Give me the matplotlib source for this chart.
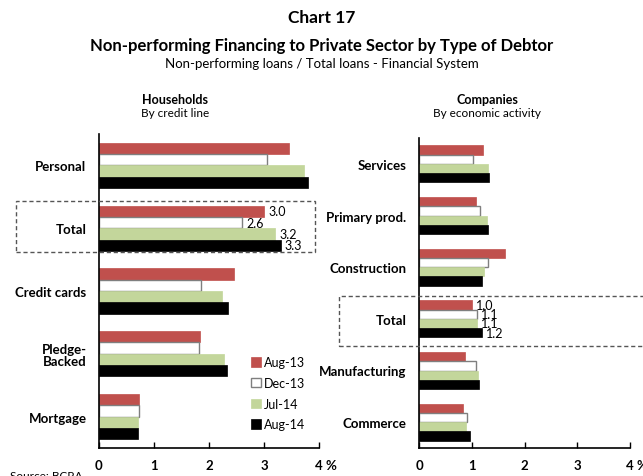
import matplotlib
matplotlib.use("Agg")
import matplotlib.pyplot as plt
import numpy as np
from matplotlib.patches import Rectangle
from matplotlib.transforms import offset_copy

plt.rcParams['font.family'] = ['Lato', 'DejaVu Sans']

series = ["Aug-13", "Dec-13", "Jul-14", "Aug-14"]
colors = ["#C0504D", "white", "#C3D69B", "black"]
edges = ["#C0504D", "#7F7F7F", "#C3D69B", "black"]

hh_cats = ["Personal", "Total", "Credit cards", "Pledge-\nBacked", "Mortgage"]
hh_vals = {
    "Aug-13": [3.45, 3.0, 2.45, 1.84, 0.73],
    "Dec-13": [3.05, 2.6, 1.85, 1.82, 0.72],
    "Jul-14": [3.73, 3.2, 2.24, 2.27, 0.70],
    "Aug-14": [3.80, 3.3, 2.35, 2.33, 0.71],
}
co_cats = ["Services", "Primary prod.", "Construction", "Total", "Manufacturing", "Commerce"]
co_vals = {
    "Aug-13": [1.21, 1.08, 1.63, 1.0, 0.87, 0.84],
    "Dec-13": [1.03, 1.16, 1.31, 1.1, 1.08, 0.91],
    "Jul-14": [1.31, 1.29, 1.23, 1.1, 1.12, 0.90],
    "Aug-14": [1.32, 1.31, 1.20, 1.2, 1.13, 0.97],
}
xticks = [0, 1, 2, 3, 4]
xticklabels = ["0", "1", "2", "3", "4"]

W, H = 643, 477
fig = plt.figure(figsize=(W / 100, H / 100), dpi=100)

def fx(px):
    return px / W

def fy(py):
    return 1 - py / H

ax1 = fig.add_axes([fx(99), fy(449), fx(220), (449 - 135) / H])
ax2 = fig.add_axes([fx(419), fy(449), fx(211), (449 - 139) / H])

bh = 0.18

def draw(ax, cats, vals, total_idx):
    y = np.arange(len(cats))
    for i, s in enumerate(series):
        off = (i - 1.5) * bh
        ax.barh(y + off, vals[s], height=bh, color=colors[i], edgecolor=edges[i],
                linewidth=1.0 if s == "Dec-13" else 0.5, label=s)
        v = vals[s][total_idx]
        tr = offset_copy(ax.transData, fig=fig, x=3, y=0, units='points')
        ax.text(v, total_idx + off, f"{v:.1f}", transform=tr, ha='left', va='center',
                fontsize=9, color='black')
    ax.set_ylim(len(cats) - 0.5, -0.5)
    ax.set_xlim(0, 4)
    ax.set_yticks(y)
    ax.set_yticklabels(cats, fontsize=9.5, fontweight='bold', linespacing=1.0)
    ax.tick_params(axis='y', length=0, pad=9)
    ax.set_xticks(xticks)
    ax.set_xticklabels(xticklabels, fontsize=9.5, fontweight='bold')
    ax.tick_params(axis='x', direction='in', length=4, pad=8, width=1)
    for sp in ['top', 'right']:
        ax.spines[sp].set_visible(False)
    for sp in ['left', 'bottom']:
        ax.spines[sp].set_linewidth(1.2)
        ax.spines[sp].set_color('black')
    ax.text(4.0, 0.0, "%", transform=offset_copy(ax.get_xaxis_transform(), fig=fig, x=5, y=-8, units='points'),
            ha='left', va='top', fontsize=9.5, fontweight='bold')

draw(ax1, hh_cats, hh_vals, 1)
draw(ax2, co_cats, co_vals, 3)

leg = ax1.legend(loc='lower left', bbox_to_anchor=(0.64, 0.02), frameon=False,
                 fontsize=9, handlelength=0.8, handleheight=0.8, handletextpad=0.2,
                 labelspacing=0.7)

fig.text(0.5, fy(18), "Chart 17", ha='center', va='center', fontsize=12.5, fontweight='bold')
fig.text(0.5, fy(46), "Non-performing Financing to Private Sector by Type of Debtor",
         ha='center', va='center', fontsize=12, fontweight='bold')
fig.text(0.5, fy(64), "Non-performing loans / Total loans - Financial System",
         ha='center', va='center', fontsize=9.5)
fig.text(fx(175), fy(100), "Households", ha='center', va='center', fontsize=9, fontweight='bold')
fig.text(fx(175), fy(114), "By credit line", ha='center', va='center', fontsize=8.5)
fig.text(fx(487), fy(100), "Companies", ha='center', va='center', fontsize=9, fontweight='bold')
fig.text(fx(487), fy(114), "By economic activity", ha='center', va='center', fontsize=8.5)
fig.text(fx(10), fy(477), "Source: BCRA", ha='left', va='center', fontsize=8.5)

fig.patches.append(Rectangle((fx(16), fy(253)), fx(315 - 16), (253 - 202) / H,
                             transform=fig.transFigure, fill=False, edgecolor='#555555',
                             linestyle=(0, (3, 2)), linewidth=1.0))
fig.patches.append(Rectangle((fx(339), fy(347)), fx(645 - 339), (347 - 297) / H,
                             transform=fig.transFigure, fill=False, edgecolor='#555555',
                             linestyle=(0, (3, 2)), linewidth=1.0))

fig.savefig("out.png", dpi=100)
